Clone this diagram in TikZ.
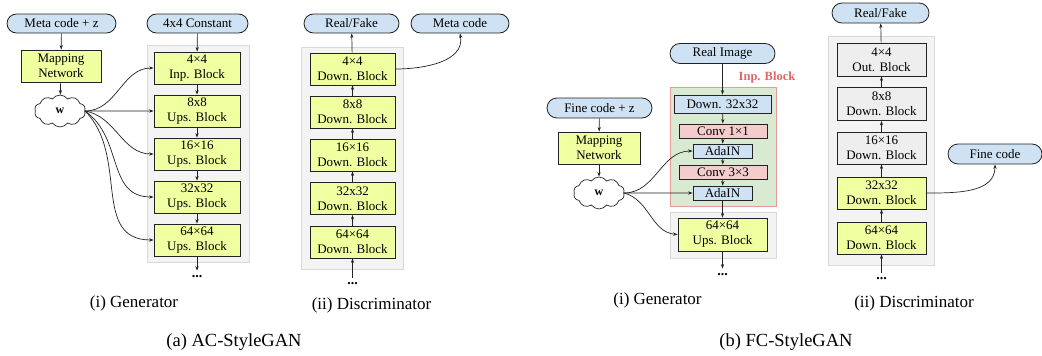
\documentclass[tikz,border=0pt]{standalone}
\usepackage{fontspec}
\setmainfont{Liberation Serif}
\usetikzlibrary{shapes.misc,shapes.symbols,arrows.meta}
\definecolor{cblue}{HTML}{CFE2F3}
\definecolor{cyel}{HTML}{F0FFA0}
\definecolor{cgray}{HTML}{F3F3F3}
\definecolor{cgrayb}{HTML}{D9D9D9}
\definecolor{cblk}{HTML}{EEEEEE}
\definecolor{cgreen}{HTML}{D9EAD3}
\definecolor{cpinkb}{HTML}{EA9999}
\definecolor{cpink}{HTML}{F4CCCC}
\definecolor{cred}{HTML}{E06666}
\definecolor{cline}{HTML}{222222}
\begin{document}
\begin{tikzpicture}[x=1pt,y=-1pt,
  every node/.style={font=\fontsize{13}{15}\selectfont, text=black},
  >={Stealth[length=4.5pt,width=3.2pt]},
  conn/.style={->, draw=cline, line width=0.7pt},
  io/.style={rounded rectangle, draw=cline, fill=cblue, line width=0.8pt, minimum height=19pt, inner sep=0pt},
  blk/.style={draw=cline, fill=cyel, line width=0.8pt, minimum width=86pt, minimum height=32pt, inner sep=0pt, align=center},
  gblk/.style={blk, fill=cblk},
  sblk/.style={draw=cline, line width=0.8pt, minimum height=14pt, inner sep=0pt},
  panel/.style={draw=cgrayb, fill=cgray, line width=0.8pt, inner sep=0pt},
  cloudw/.style={cloud, cloud puffs=10, cloud puff arc=110, aspect=1.6, draw=cline, fill=white, line width=0.7pt, minimum width=51pt, minimum height=32pt, inner sep=0pt, font=\fontsize{12}{14}\selectfont\bfseries},
  dots/.style={inner xsep=0pt, inner ysep=5pt, font=\fontsize{14}{16}\selectfont\bfseries},
  captext/.style={inner sep=0pt, font=\fontsize{17}{19}\selectfont},
  titletext/.style={inner sep=0pt, font=\fontsize{18.5}{21}\selectfont}
]
\useasboundingbox (0,0) rectangle (1042,356);

% ================= (a) Generator =================
\node[panel, minimum width=102pt, minimum height=217pt] (pag) at (198,153.5) {};
\node[io, minimum width=109pt] (metaz) at (61.5,23.5) {Meta code + z};
\node[io, minimum width=101pt] (const) at (197.5,23.5) {4x4 Constant};
\node[blk, minimum width=80pt] (mapa) at (61,66) {Mapping\\Network};
\node[cloudw] (wa) at (60,111) {w};
\node[blk] (ag1) at (197,68) {4×4\\Inp. Block};
\node[blk] (ag2) at (197,111) {8x8\\Ups. Block};
\node[blk] (ag3) at (197,154) {16×16\\Ups. Block};
\node[blk] (ag4) at (197,197) {32x32\\Ups. Block};
\node[blk] (ag5) at (197,240) {64×64\\Ups. Block};
\node[dots] (agd) at (197,277) {...};
\draw[conn] (metaz) -- (mapa);
\draw[conn] (mapa) -- (wa);
\draw[conn] (const) -- (ag1);
\draw[conn] (ag1) -- (ag2);
\draw[conn] (ag2) -- (ag3);
\draw[conn] (ag3) -- (ag4);
\draw[conn] (ag4) -- (ag5);
\draw[conn] (ag5) -- (agd.north);
\draw[conn] (wa.east) to[out=0,in=180] (ag1.west);
\draw[conn] (wa.east) -- (ag2.west);
\draw[conn] (wa.east) to[out=-10,in=180] (ag3.west);
\draw[conn] (wa.east) to[out=-35,in=180,looseness=1.1] (ag4.west);
\draw[conn] (wa.east) to[out=-45,in=180,looseness=1.1] (ag5.west);
\node[captext] (capag) at (134,303) {(i) Generator};

% ================= (a) Discriminator =================
\node[panel, minimum width=102pt, minimum height=222pt] (pad) at (352,158) {};
\node[io, minimum width=95pt] (rfa) at (351.5,23.5) {Real/Fake};
\node[io, minimum width=98pt] (meta) at (460,23.5) {Meta code};
\node[blk, minimum width=85pt] (ad1) at (352.5,69) {4×4\\Down. Block};
\node[blk, minimum width=85pt] (ad2) at (352.5,112) {8x8\\Down. Block};
\node[blk, minimum width=85pt] (ad3) at (352.5,155) {16×16\\Down. Block};
\node[blk, minimum width=85pt] (ad4) at (352.5,198.5) {32x32\\Down. Block};
\node[blk, minimum width=85pt] (ad5) at (352.5,242) {64×64\\Down. Block};
\node[dots] (add) at (352.5,284) {...};
\draw[conn] (add.north) -- (ad5);
\draw[conn] (ad5) -- (ad4);
\draw[conn] (ad4) -- (ad3);
\draw[conn] (ad3) -- (ad2);
\draw[conn] (ad2) -- (ad1);
\draw[conn] (ad1) -- (rfa);
\draw[conn] (ad1.east) to[out=0,in=-80] (meta.south);
\node[captext] (capad) at (371.5,305) {(ii) Discriminator};
\node[titletext] (tita) at (234,342) {(a) AC-StyleGAN};

% ================= (b) Generator =================
\node[draw=cpinkb, fill=cgreen, line width=0.8pt, inner sep=0pt, minimum width=106pt, minimum height=119pt] (pinp) at (723,146.5) {};
\node[panel, minimum width=106pt, minimum height=46pt] (pups) at (723,235) {};
\node[inner sep=0pt, text=cred, font=\fontsize{12.5}{14}\selectfont\bfseries] (inplab) at (767,77) {Inp. Block};
\node[io, minimum width=105pt, minimum height=20pt] (realimg) at (722.5,53.5) {Real Image};
\node[io, minimum width=105pt, minimum height=20pt] (finez) at (599.5,108) {Fine code + z};
\node[blk, minimum width=82pt] (mapb) at (599,148) {Mapping\\Network};
\node[cloudw] (wb) at (599,193) {w};
\node[sblk, fill=cblue, minimum width=97pt, minimum height=18pt] (down) at (722.5,104) {Down. 32x32};
\node[sblk, fill=cpink, minimum width=88pt] (conv1) at (723,131) {Conv 1×1};
\node[sblk, fill=cblue, minimum width=59pt] (ada1) at (722.5,151) {AdaIN};
\node[sblk, fill=cpink, minimum width=88pt] (conv3) at (723,172) {Conv 3×3};
\node[sblk, fill=cblue, minimum width=59pt] (ada2) at (722.5,193) {AdaIN};
\node[blk, minimum width=89pt, minimum height=33pt] (bg5) at (722.5,234.5) {64×64\\Ups. Block};
\node[dots] (bgd) at (722.5,275) {...};
\draw[conn] (finez) -- (mapb);
\draw[conn] (mapb) -- (wb);
\draw[conn] (realimg) -- (down);
\draw[conn] (down) -- (conv1);
\draw[conn] (conv1) -- (ada1);
\draw[conn] (ada1) -- (conv3);
\draw[conn] (conv3) -- (ada2);
\draw[conn] (ada2) -- (bg5);
\draw[conn] (bg5) -- (bgd.north);
\draw[conn] (wb.east) to[out=0,in=180] (ada1.west);
\draw[conn] (wb.east) -- (ada2.west);
\draw[conn] (wb.east) to[out=-15,in=175] (bg5.west);
\node[captext] (capbg) at (657.5,300) {(i) Generator};

% ================= (b) Discriminator =================
\node[panel, minimum width=106pt, minimum height=229pt] (pbd) at (881,150.5) {};
\node[io, minimum width=97pt, minimum height=20pt] (rfb) at (880.5,13) {Real/Fake};
\node[io, minimum width=94pt, minimum height=20pt] (fine) at (995,154) {Fine code};
\node[gblk, minimum width=89pt, minimum height=33pt] (bd1) at (881.5,59.5) {4×4\\Out. Block};
\node[gblk, minimum width=89pt, minimum height=33pt] (bd2) at (881.5,104) {8x8\\Down. Block};
\node[gblk, minimum width=89pt, minimum height=32pt] (bd3) at (881.5,148) {16×16\\Down. Block};
\node[blk, minimum width=89pt, minimum height=32pt] (bd4) at (881.5,193) {32x32\\Down. Block};
\node[blk, minimum width=89pt, minimum height=32pt] (bd5) at (881.5,238) {64×64\\Down. Block};
\node[dots] (bdd) at (881.5,279) {...};
\draw[conn] (bdd.north) -- (bd5);
\draw[conn] (bd5) -- (bd4);
\draw[conn] (bd4) -- (bd3);
\draw[conn] (bd3) -- (bd2);
\draw[conn] (bd2) -- (bd1);
\draw[conn] (bd1) -- (rfb);
\draw[conn] (bd4.east) to[out=0,in=-90] (fine.south);
\node[captext] (capbd) at (914,303) {(ii) Discriminator};
\node[titletext] (titb) at (786,342) {(b) FC-StyleGAN};
\end{tikzpicture}
\end{document}
